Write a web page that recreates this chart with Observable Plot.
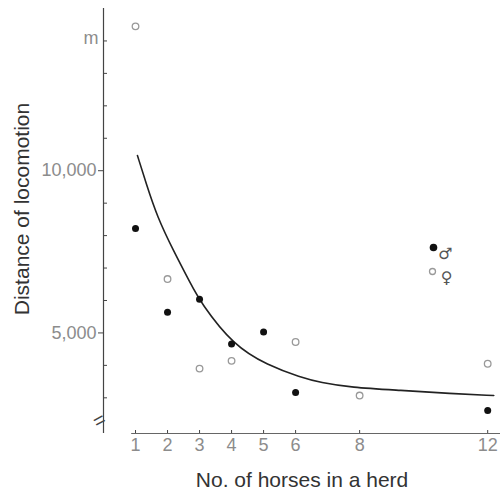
<!DOCTYPE html>
<html>
<head>
<meta charset="utf-8">
<script src="https://cdn.jsdelivr.net/npm/d3@7"></script>
<script src="https://cdn.jsdelivr.net/npm/@observablehq/plot@0.6"></script>
<style>
  html, body { margin: 0; padding: 0; background: #fff; }
</style>
</head>
<body>
<div id="chart"></div>
<script>
// Herd size (No. of horses in a herd) and distance of locomotion (m)
const maleHerd = [1, 2, 3, 4, 5, 6, 12];
const maleDist = [8220, 5640, 6040, 4660, 5030, 3160, 2610];
const femaleHerd = [1, 2, 3, 4, 6, 8, 12];
const femaleDist = [14450, 6660, 3900, 4140, 4720, 3070, 4050];

// Fitted curve
const curveHerd = [1.06, 1.33, 1.68, 2.18, 2.72, 3.03, 4.06, 5.13, 6.16, 6.78, 7.72, 9.28, 10.84, 12.19];
const curveDist = [10470, 9610, 8570, 7540, 6520, 5940, 4610, 4000, 3630, 3470, 3320, 3230, 3130, 3070];

// Axis ticks and labels
const xTicks = [1, 2, 3, 4, 5, 6, 8, 12];
const yMajor = [5000, 10000];
const yMinor = [3000, 4000, 6000, 7000, 8000, 9000, 11000, 12000, 13000, 14000];
const yUnitTick = [14000];
const yUnitLabel = "m";
const xTitle = "No. of horses in a herd";
const yTitle = "Distance of locomotion";
const legendMale = "♂";
const legendFemale = "♀";
const xAxisStart = 0.88;

const male = maleHerd.map((n, i) => ({n, d: maleDist[i]}));
const female = femaleHerd.map((n, i) => ({n, d: femaleDist[i]}));
const curve = curveHerd.map((n, i) => ({n, d: curveDist[i]}));

const axisColor = "#444";
const labelColor = "#8c8c8c";
const font = "Liberation Sans, Arial, sans-serif";

const chart = Plot.plot({
  width: 500,
  height: 495,
  marginLeft: 103,
  marginRight: 0,
  marginTop: 8,
  marginBottom: 62,
  x: {domain: [0, 12.4]},
  y: {domain: [1900, 15000]},
  style: {fontFamily: font, background: "#fff", color: "#333"},
  marks: [
    // y axis line
    Plot.ruleX([0], {stroke: axisColor, strokeWidth: 1.2}),
    // x axis line
    Plot.ruleY([1900], {x1: xAxisStart, x2: 12.4, stroke: "#666", strokeWidth: 1.2}),
    // y ticks and labels
    Plot.axisY(yMajor, {anchor: "left", tickSize: 5, tickPadding: 2, fontSize: 18, color: labelColor, stroke: axisColor, tickFormat: d3.format(","), label: null}),
    Plot.axisY(yMinor, {anchor: "left", tickSize: 4, dx: 4, text: null, stroke: axisColor, label: null}),
    Plot.axisY(yUnitTick, {anchor: "left", tickSize: 0, tickPadding: 5, dy: -3, fontSize: 18, color: labelColor, tickFormat: () => yUnitLabel, label: null}),
    // axis break mark
    Plot.text(["="], {frameAnchor: "bottom-left", textAnchor: "middle", lineAnchor: "middle", dx: -4, dy: -13, rotate: -28, fontSize: 20, fill: axisColor}),
    // x ticks and labels
    Plot.axisX(xTicks, {anchor: "bottom", tickSize: 3, dy: -3, text: null, stroke: axisColor, label: null}),
    Plot.axisX(xTicks, {anchor: "bottom", tickSize: 0, tickPadding: 5, fontSize: 18, color: labelColor, label: null}),
    // titles
    Plot.text([xTitle], {frameAnchor: "bottom", textAnchor: "middle", lineAnchor: "middle", dy: 47, fontSize: 21, fill: "#333"}),
    Plot.text([yTitle], {frameAnchor: "left", textAnchor: "middle", lineAnchor: "middle", rotate: -90, dx: -81, dy: -12, fontSize: 21, fill: "#333"}),
    // fitted curve
    Plot.line(curve, {x: "n", y: "d", curve: "basis", stroke: "#222", strokeWidth: 1.6}),
    // data
    Plot.dot(female, {x: "n", y: "d", r: 3.3, stroke: "#999", strokeWidth: 1.3, fill: "#fff"}),
    Plot.dot(male, {x: "n", y: "d", r: 3.5, fill: "#111", stroke: "none"}),
    // legend
    Plot.dot([legendMale], {frameAnchor: "top-right", dx: -67, dy: 239, r: 3.8, fill: "#111"}),
    Plot.dot([legendFemale], {frameAnchor: "top-right", dx: -68, dy: 263, r: 3, stroke: "#999", strokeWidth: 1.3, fill: "#fff"}),
    Plot.text([legendMale], {frameAnchor: "top-right", dx: -48, dy: 239, fontSize: 16, fill: "#555", fontFamily: "DejaVu Sans"}),
    Plot.text([legendFemale], {frameAnchor: "top-right", dx: -48, dy: 263, fontSize: 16, fill: "#555", fontFamily: "DejaVu Sans"})
  ]
});
document.getElementById("chart").appendChild(chart);
</script>
</body>
</html>
